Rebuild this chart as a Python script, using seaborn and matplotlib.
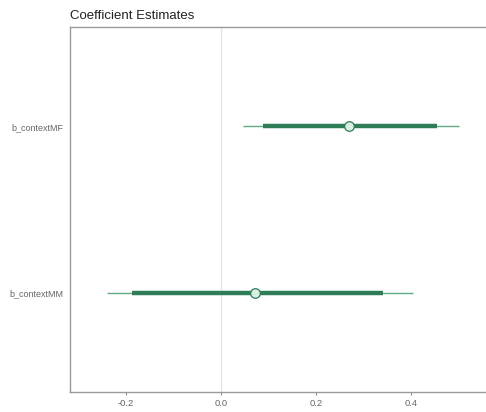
import matplotlib
matplotlib.use("Agg")
import matplotlib.pyplot as plt
import seaborn as sns
import pandas as pd

params = ["b_contextMF", "b_contextMM"]
estimate = [0.270, 0.072]
inner_low = [0.088, -0.188]
inner_high = [0.455, 0.340]
outer_low = [0.046, -0.241]
outer_high = [0.501, 0.404]
xticks = [-0.2, 0.0, 0.2, 0.4]

df = pd.DataFrame({"param": params, "est": estimate, "il": inner_low, "ih": inner_high,
                   "ol": outer_low, "oh": outer_high})

sns.set_style("white")
plt.rcParams['font.family'] = ['Liberation Sans', 'DejaVu Sans']

fig = plt.figure(figsize=(4.86, 4.12), dpi=100)
ax = fig.add_axes([70/486, 20/412, 417/486, 365/412])

ax.axvline(0, color="#e3e3e3", lw=0.9, zorder=0)
ypos = list(range(len(params)))
ax.hlines(ypos, df["ol"], df["oh"], color="#5fa985", lw=1.0, zorder=2)
ax.hlines(ypos, df["il"], df["ih"], color="#2e7d57", lw=3.2, zorder=3)
sns.scatterplot(x=df["est"], y=ypos, ax=ax, s=48, color="#d9efe2",
                edgecolor="#2e7d57", linewidth=0.9, zorder=4, legend=False)

ax.set_yticks(ypos)
ax.set_yticklabels(params)
ax.set_ylim(1.597, -0.597)
ax.set_xlim((70-221)/475, (487-221)/475)
ax.set_xticks(xticks)
ax.set_xticklabels([f"{t:.1f}" for t in xticks])
ax.set_xlabel("")
ax.set_ylabel("")

for s in ["left", "bottom", "top"]:
    ax.spines[s].set_color("#9a9a9a")
    ax.spines[s].set_linewidth(1.0)
ax.spines["right"].set_visible(False)
ax.tick_params(axis="x", length=2, width=0.6, color="#666666", labelsize=6.8,
               labelcolor="#666666", pad=3, bottom=True)
ax.tick_params(axis="y", length=0, labelsize=6.5, labelcolor="#666666", pad=5)

ax.set_title("Coefficient Estimates", loc="left", fontsize=9.5, color="#222222", pad=6)

fig.savefig("out.png", dpi=100)
